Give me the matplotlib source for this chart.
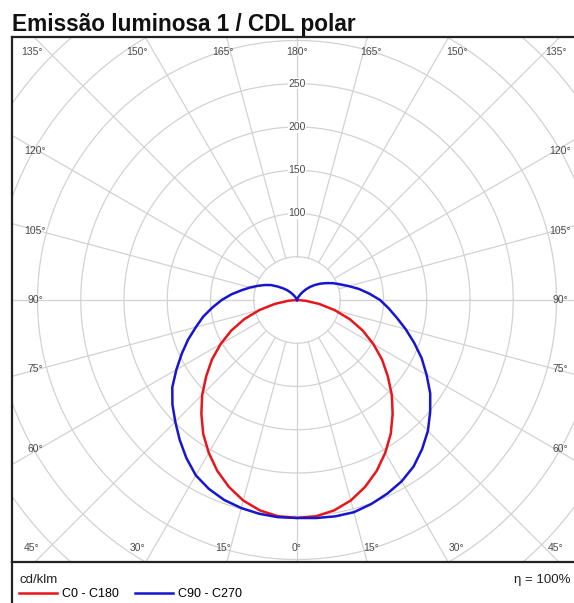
"""
CDL polar (cd/klm) para a emissão luminosa 1: curvas C0-C180 e C90-C270
desenhadas num quadro retangular com grade polar cortada pelas bordas.
"""

import numpy as np
import matplotlib
matplotlib.use("Agg")
import matplotlib.pyplot as plt
from matplotlib.lines import Line2D

plt.rcParams["font.family"] = ["Liberation Sans", "DejaVu Sans"]

# ângulo gama (0° = nadir) e intensidades em cd/klm
GAMMA = [0, 5, 10, 15, 20, 25, 30, 35, 40, 45, 50, 55, 60, 65, 70, 75, 80, 85, 90,
         95, 100, 105, 110, 115, 120, 125, 130, 135, 140, 145, 150, 155, 160, 165,
         170, 175, 180]
C0_C180 = [252, 251, 247, 240, 230, 218, 204, 189, 172, 155, 137, 120, 102, 84, 65,
           45, 26, 10, 0, 0, 0, 0, 0, 0, 0, 0, 0, 0, 0, 0, 0, 0, 0, 0, 0, 0, 0]
C270 = [252, 252, 251, 249, 246, 241, 234, 223, 211, 199, 188, 176, 161, 147, 134,
        121, 110, 98, 87, 76, 65, 56, 48, 41, 34.5, 27, 21, 16, 11, 7, 4, 2, 1, 0,
        0, 0, 0]
C90 = [252, 253, 254, 254, 251, 247, 242, 235, 225, 214, 201, 188, 173, 159, 144,
       130, 117, 106, 96, 84, 73, 62, 53, 46, 39, 33, 27, 21.5, 16, 11, 7, 4, 2, 1,
       0, 0, 0]

RING_LABELS = [100, 150, 200, 250]
ANGLE_LABELS = [0, 15, 30, 45, 60, 75, 90, 105, 120, 135, 150, 165, 180]

W, H = 574, 603
PX = 0.865          # pixels por cd/klm
GRID = "#d2d2d2"
TXT = "#4a4a4a"


def to_xy(gamma, vals, side):
    g = np.radians(gamma)
    r = np.asarray(vals, dtype=float)
    return side * r * np.sin(g), -r * np.cos(g)


fig = plt.figure(figsize=(W / 100, H / 100), dpi=100)
fig.text(12 / W, 1 - 31 / H, "Emissão luminosa 1 / CDL polar", fontsize=16.3,
         fontweight="bold", va="baseline", ha="left", color="#111")

# quadro do diagrama: x de 12 a 576 px, y de 37 a 562 px, centro em (297, 300)
left, right, top, bottom = 12, 576, 37, 562
ax = fig.add_axes([left / W, 1 - bottom / H, (right - left) / W, (bottom - top) / H])
cx, cy = 297 - left, bottom - 300
ax.set_xlim(-cx / PX, (right - left - cx) / PX)
ax.set_ylim(-cy / PX, (bottom - top - cy) / PX)
ax.set_xticks([])
ax.set_yticks([])
for sp in ax.spines.values():
    sp.set_linewidth(1.6)
    sp.set_color("#222")

# grade polar
t = np.linspace(0, 2 * np.pi, 721)
for r in range(50, 500, 50):
    ax.plot(r * np.cos(t), r * np.sin(t), color=GRID, lw=0.9, zorder=1)
for a in range(0, 360, 15):
    s, c = np.sin(np.radians(a)), np.cos(np.radians(a))
    ax.plot([50 * s, 700 * s], [-50 * c, -700 * c], color=GRID, lw=0.9, zorder=1)

for r in RING_LABELS:
    ax.text(0, r, str(r), ha="center", va="center", fontsize=7.5, color=TXT, zorder=2,
            bbox=dict(fc="white", ec="none", pad=0.4))

# rótulos de ângulo junto às bordas: posição ao longo da borda pelo cruzamento
# do raio com um retângulo interno (meio-lados A x B), encostada na borda
A, B = 258 / PX, 277 / PX
top_y = (bottom - top - cy - 15) / PX
bot_y = -(cy - 14) / PX
left_x = -(cx - 23) / PX
right_x = (right - left - cx - 16) / PX
corner_l = -(cx - 20) / PX
corner_r = (right - left - cx - 20) / PX
for a in ANGLE_LABELS:
    sides = (1,) if a in (0, 180) else (-1, 1)
    for side in sides:
        dx, dy = side * np.sin(np.radians(a)), -np.cos(np.radians(a))
        if abs(dx) <= abs(dy) + 1e-9:
            lx = np.clip(B * dx / abs(dy), corner_l, corner_r)
            ly = top_y if dy > 0 else bot_y
        else:
            ly = A * dy / abs(dx)
            lx = right_x if dx > 0 else left_x
        ax.text(lx, ly, f"{a}°", ha="center", va="center", fontsize=7.5,
                color=TXT, zorder=2)

# curvas
gx_r, gy_r = to_xy(GAMMA[:19], C0_C180[:19], 1)
gx_l, gy_l = to_xy(GAMMA[:19], C0_C180[:19], -1)
red, = ax.plot(np.r_[gx_l[::-1], gx_r[1:]], np.r_[gy_l[::-1], gy_r[1:]],
               color="#e8161b", lw=1.8, zorder=3, solid_joinstyle="round")
bx_l, by_l = to_xy(GAMMA, C270, -1)
bx_r, by_r = to_xy(GAMMA, C90, 1)
blue, = ax.plot(np.r_[bx_l[::-1], bx_r[1:]], np.r_[by_l[::-1], by_r[1:]],
                color="#1616d0", lw=1.8, zorder=4, solid_joinstyle="round")

# rodapé com unidade, legenda e rendimento
foot = fig.add_axes([left / W, 0, (right - left) / W, (H - bottom) / H])
foot.set_axis_off()
foot.add_line(Line2D([0, 0], [0, 1], transform=foot.transAxes, color="#222", lw=1.6,
                     clip_on=False))
fig.text(19 / W, 1 - 580 / H, "cd/klm", fontsize=9.5, va="center", ha="left", color="#222")
fig.text(571 / W, 1 - 580 / H, "η = 100%", fontsize=9.5, va="center", ha="right",
         color="#222")
fig.legend([red, blue], ["C0 - C180", "C90 - C270"], loc="center left",
           bbox_to_anchor=(19 / W, 1 - 594 / H), ncol=2, frameon=False, fontsize=9,
           handlelength=3.0, handletextpad=0.45, columnspacing=1.3, borderpad=0,
           borderaxespad=0)

fig.savefig("out.png", dpi=100)
